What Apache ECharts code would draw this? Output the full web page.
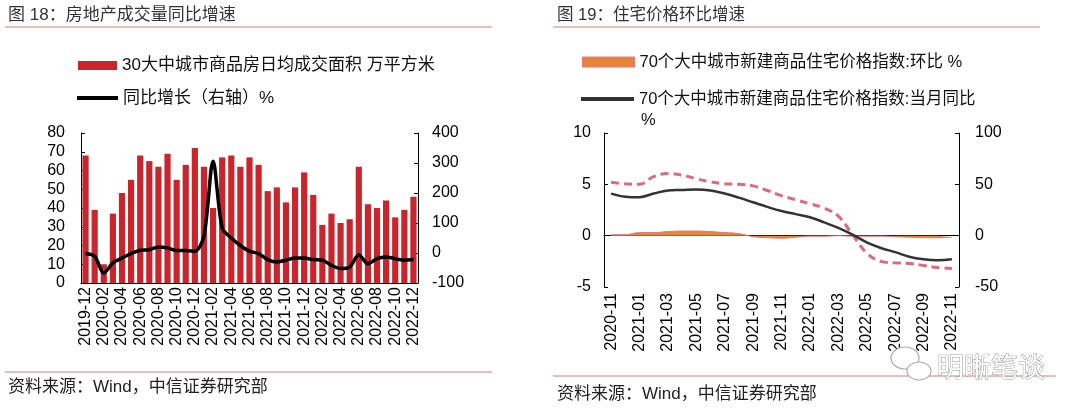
<!DOCTYPE html>
<html>
  <head>
    <meta charset="UTF-8" />
    <title>房地产成交量与住宅价格</title>
    <style>
      html,
      body {
        margin: 0;
        padding: 0;
        background: #fff;
      }
      #main {
        width: 1080px;
        height: 414px;
      }
    </style>
  </head>
  <body>
    <div id="main"></div>
  </body>
  <script src="https://cdn.jsdelivr.net/npm/echarts@6/dist/echarts.min.js"></script>
  <script>
    // 图18 数据
    var months18 = [
      "2019-12", "2020-01", "2020-02", "2020-03", "2020-04", "2020-05", "2020-06",
      "2020-07", "2020-08", "2020-09", "2020-10", "2020-11", "2020-12", "2021-01",
      "2021-02", "2021-03", "2021-04", "2021-05", "2021-06", "2021-07", "2021-08",
      "2021-09", "2021-10", "2021-11", "2021-12", "2022-01", "2022-02", "2022-03",
      "2022-04", "2022-05", "2022-06", "2022-07", "2022-08", "2022-09", "2022-10",
      "2022-11", "2022-12",
    ];
    var dailyArea = [
      68, 39, 10, 37, 48, 55, 68, 65, 62, 69, 55, 63, 72, 62, 40, 67, 68, 62, 67,
      63, 49, 51, 43, 51, 59, 47, 31, 37, 32, 34, 62, 42, 40, 44, 35, 39, 46,
    ];
    var areaYoy = [
      -2, -11, -67, -33, -17, -2, 9, 11, 20, 17, 8, 8, 6, 56, 306, 83, 50, 25, 6,
      -2, -22, -30, -24, -17, -17, -22, -24, -41, -52, -47, -6, -36, -19, -13, -19,
      -24, -22,
    ];

    // 图19 数据
    var months19 = [
      "2020-11", "2020-12", "2021-01", "2021-02", "2021-03", "2021-04", "2021-05",
      "2021-06", "2021-07", "2021-08", "2021-09", "2021-10", "2021-11", "2021-12",
      "2022-01", "2022-02", "2022-03", "2022-04", "2022-05", "2022-06", "2022-07",
      "2022-08", "2022-09", "2022-10", "2022-11",
    ];
    var priceMom = [
      0.1, 0.1, 0.3, 0.3, 0.4, 0.45, 0.45, 0.4, 0.3, 0.2, -0.1, -0.2, -0.25, -0.15,
      -0.05, -0.05, 0, -0.05, -0.05, -0.05, -0.1, -0.15, -0.2, -0.2, -0.15,
    ];
    var priceYoy = [
      4.1, 3.8, 3.75, 4.1, 4.4, 4.45, 4.5, 4.4, 4.1, 3.7, 3.25, 2.8, 2.4, 2.1, 1.8,
      1.3, 0.75, 0.1, -0.65, -1.2, -1.6, -2.05, -2.3, -2.4, -2.3,
    ];
    var priceYoyDash = [
      5.2, 5.05, 5.0, 5.75, 6.05, 5.9, 5.55, 5.25, 5.05, 5.0, 4.85, 4.4, 3.9, 3.5,
      3.1, 2.7, 1.9, 0.1, -1.7, -2.5, -2.65, -2.7, -2.9, -3.1, -3.2,
    ];

    var name1 = "30大中城市商品房日均成交面积 万平方米";
    var name2 = "同比增长（右轴）%";
    var name3 = "70个大中城市新建商品住宅价格指数:环比 %";
    var name4 = "70个大中城市新建商品住宅价格指数:当月同比";

    var numFont = '"Liberation Sans", Arial, sans-serif';
    var cnFont = '"Liberation Sans", "Noto Sans CJK SC", sans-serif';
    var lineRed = "#d97a7a";

    var myChart = echarts.init(document.getElementById("main"));

    function tickLabel(margin) {
      return {
        margin: margin,
        color: "#000",
        fontSize: 16,
        fontFamily: numFont,
      };
    }

    function legendItem(name, left, top, w, h, size, color, border) {
      return {
        data: [
          {
            name: name,
            icon: "rect",
            itemStyle: border
              ? { color: color, borderColor: border, borderWidth: 1 }
              : { color: color },
          },
        ],
        left: left,
        top: top,
        padding: 0,
        itemWidth: w,
        itemHeight: h,
        selectedMode: false,
        textStyle: {
          color: "#111",
          fontSize: size,
          lineHeight: 18,
          fontFamily: cnFont,
        },
      };
    }

    var option = {
      animation: false,
      backgroundColor: "#fff",
      legend: [
        legendItem(name1, 78, 56.5, 39, 9, 17, "#c8262c"),
        legendItem(name2, 77, 89, 41, 4, 17, "#000"),
        legendItem(name3, 582, 53, 52, 10, 16.5, "#e8843a", "#e07a7a"),
        legendItem(name4, 581, 90, 53, 4, 16.5, "#333"),
      ],
      grid: [
        { left: 81, top: 133, width: 337, height: 150 },
        { left: 604, top: 133, width: 355, height: 154 },
      ],
      xAxis: [
        {
          gridIndex: 0,
          type: "category",
          data: months18,
          axisLine: { onZero: false, lineStyle: { color: "#000" } },
          axisTick: { show: false },
          axisLabel: {
            interval: 1,
            rotate: 90,
            margin: 4,
            color: "#000",
            fontSize: 16,
            fontFamily: numFont,
          },
        },
        {
          gridIndex: 1,
          type: "category",
          data: months19,
          position: "bottom",
          axisLine: { show: false, onZero: false },
          axisTick: { show: false },
          axisLabel: {
            interval: 1,
            rotate: 90,
            margin: 6,
            color: "#000",
            fontSize: 16,
            fontFamily: numFont,
          },
        },
        {
          // 零轴
          gridIndex: 1,
          type: "category",
          data: months19,
          position: "bottom",
          axisLine: { onZero: true, lineStyle: { color: "#000" } },
          axisTick: { interval: 1, length: 5, lineStyle: { color: "#000" } },
          axisLabel: { show: false },
        },
      ],
      yAxis: [
        {
          gridIndex: 0,
          type: "value",
          min: 0,
          max: 80,
          interval: 10,
          position: "left",
          axisLine: { show: true, lineStyle: { color: "#000" } },
          axisTick: { show: true, inside: true, length: 4 },
          splitLine: { show: false },
          axisLabel: tickLabel(16),
        },
        {
          gridIndex: 0,
          type: "value",
          min: -100,
          max: 400,
          interval: 100,
          position: "right",
          axisLine: { show: true, lineStyle: { color: "#000" } },
          axisTick: { show: true, inside: true, length: 4 },
          splitLine: { show: false },
          axisLabel: tickLabel(14),
        },
        {
          gridIndex: 1,
          type: "value",
          min: -5,
          max: 10,
          interval: 5,
          position: "left",
          axisLine: { show: true, lineStyle: { color: "#000" } },
          axisTick: { show: true, inside: true, length: 4 },
          splitLine: { show: false },
          axisLabel: tickLabel(13),
        },
        {
          gridIndex: 1,
          type: "value",
          min: -50,
          max: 100,
          interval: 50,
          position: "right",
          axisLine: { show: true, lineStyle: { color: "#000" } },
          axisTick: { show: true, inside: true, length: 4 },
          splitLine: { show: false },
          axisLabel: tickLabel(16),
        },
      ],
      series: [
        {
          name: name1,
          type: "bar",
          xAxisIndex: 0,
          yAxisIndex: 0,
          data: dailyArea,
          barCategoryGap: "32%",
          itemStyle: { color: "#c8262c" },
        },
        {
          name: name2,
          type: "line",
          xAxisIndex: 0,
          yAxisIndex: 1,
          data: areaYoy,
          smooth: 0.3,
          showSymbol: false,
          z: 3,
          itemStyle: { color: "#000" },
          lineStyle: { color: "#000", width: 3.5 },
        },
        {
          name: name3,
          type: "line",
          xAxisIndex: 1,
          yAxisIndex: 2,
          data: priceMom,
          smooth: 0.4,
          showSymbol: false,
          itemStyle: { color: "#e8843a" },
          lineStyle: { color: "#e07a7a", width: 1 },
          areaStyle: { color: "#e8843a", opacity: 1 },
        },
        {
          name: name4,
          type: "line",
          xAxisIndex: 1,
          yAxisIndex: 2,
          data: priceYoy,
          smooth: 0.4,
          showSymbol: false,
          z: 4,
          itemStyle: { color: "#333" },
          lineStyle: { color: "#333", width: 2.5 },
        },
        {
          name: "当月同比（虚线）",
          type: "line",
          xAxisIndex: 1,
          yAxisIndex: 2,
          data: priceYoyDash,
          smooth: 0.4,
          showSymbol: false,
          z: 3,
          itemStyle: { color: "#dd6a7a" },
          lineStyle: { color: "#dd6a7a", width: 3, type: [8, 5] },
        },
      ],
      graphic: [
        {
          type: "text",
          x: 8,
          y: 15,
          style: {
            text: "图 18：房地产成交量同比增速",
            fill: "#333",
            font: '17px "Liberation Sans", "Noto Sans CJK SC"',
            verticalAlign: "middle",
          },
        },
        {
          type: "line",
          shape: { x1: 5, y1: 27, x2: 492, y2: 27 },
          style: { stroke: lineRed, lineWidth: 1 },
        },
        {
          type: "text",
          x: 557,
          y: 15,
          style: {
            text: "图 19：住宅价格环比增速",
            fill: "#333",
            font: '16.5px "Liberation Sans", "Noto Sans CJK SC"',
            verticalAlign: "middle",
          },
        },
        {
          type: "line",
          shape: { x1: 553, y1: 27, x2: 1040, y2: 27 },
          style: { stroke: lineRed, lineWidth: 1 },
        },
        {
          type: "text",
          x: 641,
          y: 120,
          style: {
            text: "%",
            fill: "#111",
            font: '16.5px "Liberation Sans"',
            verticalAlign: "middle",
          },
        },
        {
          type: "line",
          shape: { x1: 5, y1: 372, x2: 492, y2: 372 },
          style: { stroke: lineRed, lineWidth: 1 },
        },
        {
          type: "text",
          x: 8,
          y: 387,
          style: {
            text: "资料来源：Wind，中信证券研究部",
            fill: "#222",
            font: '17px "Liberation Sans", "Noto Sans CJK SC"',
            verticalAlign: "middle",
          },
        },
        {
          type: "line",
          shape: { x1: 553, y1: 376, x2: 1056, y2: 376 },
          style: { stroke: lineRed, lineWidth: 1 },
        },
        {
          type: "text",
          x: 557,
          y: 394,
          style: {
            text: "资料来源：Wind，中信证券研究部",
            fill: "#222",
            font: '17px "Liberation Sans", "Noto Sans CJK SC"',
            verticalAlign: "middle",
          },
        },
        // 水印
        {
          type: "ellipse",
          shape: { cx: 905, cy: 358, rx: 14, ry: 11 },
          style: { fill: "#fff", stroke: "#aaa", lineWidth: 1.2 },
          z: 10,
        },
        {
          type: "ellipse",
          shape: { cx: 919, cy: 371, rx: 12, ry: 9 },
          style: { fill: "#fff", stroke: "#aaa", lineWidth: 1.2 },
          z: 11,
        },
        {
          type: "text",
          x: 937,
          y: 367,
          z: 12,
          style: {
            text: "明晰笔谈",
            fill: "#fff",
            stroke: "#999",
            lineWidth: 1,
            font: '27px "Noto Sans CJK SC"',
            verticalAlign: "middle",
          },
        },
      ],
    };
    myChart.setOption(option);
  </script>
</html>
